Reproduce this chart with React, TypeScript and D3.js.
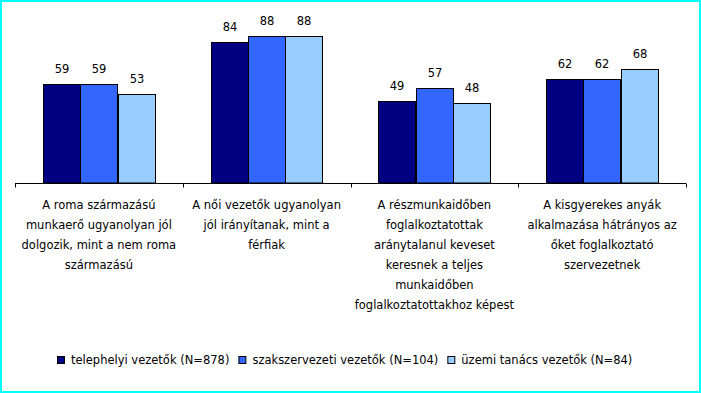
import React, { useEffect, useRef } from "react";
import * as d3 from "d3";

const categories = ["c1", "c2", "c3", "c4"];
const categoryLabels: string[][] = [
  ["A roma származású", "munkaerő ugyanolyan jól", "dolgozik, mint a nem roma", "származású"],
  ["A női vezetők ugyanolyan", "jól irányítanak, mint a", "férfiak"],
  ["A részmunkaidőben", "foglalkoztatottak", "aránytalanul keveset", "keresnek a teljes", "munkaidőben", "foglalkoztatottakhoz képest"],
  ["A kisgyerekes anyák", "alkalmazása hátrányos az", "őket foglalkoztató", "szervezetnek"],
];
const seriesNames = [
  "telephelyi vezetők (N=878)",
  "szakszervezeti vezetők (N=104)",
  "üzemi tanács vezetők (N=84)",
];
const telephelyi = [59, 84, 49, 62];
const szakszervezeti = [59, 88, 57, 62];
const uzemi = [53, 88, 48, 68];
const seriesValues = [telephelyi, szakszervezeti, uzemi];
const colors = ["#000080", "#3366FF", "#99CCFF"];

const W = 701;
const H = 393;
const FONT = "'DejaVu Sans', Verdana, sans-serif";

export default function App() {
  const ref = useRef<SVGSVGElement | null>(null);

  useEffect(() => {
    const svg = d3.select(ref.current);
    svg.selectAll("*").remove();

    svg
      .append("rect")
      .attr("x", 0)
      .attr("y", 0)
      .attr("width", W)
      .attr("height", H)
      .attr("fill", "#fff");

    const x0 = d3.scaleBand<string>().domain(categories).range([15, 686]).padding(0);
    const x1 = d3
      .scaleBand<number>()
      .domain([0, 1, 2])
      .range([0, x0.bandwidth()])
      .paddingInner(0)
      .paddingOuter(0.75);
    const y = d3.scaleLinear().domain([0, 100]).range([183, 15.5]);

    const g = svg.append("g");

    categories.forEach((c, ci) => {
      seriesValues.forEach((vals, si) => {
        const v = vals[ci];
        const bx = Math.round((x0(c) as number) + (x1(si) as number)) + 0.5;
        const bw = Math.round(x1.bandwidth());
        const by = Math.round(y(v)) + 0.5;
        g.append("rect")
          .attr("x", bx)
          .attr("y", by)
          .attr("width", bw)
          .attr("height", y(0) - by)
          .attr("fill", colors[si])
          .attr("stroke", "#000")
          .attr("stroke-width", 1);
        g.append("text")
          .attr("x", bx + bw / 2)
          .attr("y", by - 12)
          .attr("text-anchor", "middle")
          .attr("font-family", FONT)
          .attr("font-size", 11.5)
          .attr("fill", "#000")
          .text(String(v));
      });
    });

    // axis
    const axisY = Math.round(y(0)) + 0.5;
    g.append("line")
      .attr("x1", 15)
      .attr("x2", 686)
      .attr("y1", axisY)
      .attr("y2", axisY)
      .attr("stroke", "#000");
    const bounds = categories.map((c) => x0(c) as number).concat([686]);
    bounds.forEach((bx) => {
      g.append("line")
        .attr("x1", Math.round(bx) + 0.5)
        .attr("x2", Math.round(bx) + 0.5)
        .attr("y1", axisY)
        .attr("y2", axisY + 4)
        .attr("stroke", "#000");
    });

    // category labels
    categories.forEach((c, ci) => {
      const cx = (x0(c) as number) + x0.bandwidth() / 2;
      const t = g
        .append("text")
        .attr("text-anchor", "middle")
        .attr("font-family", FONT)
        .attr("font-size", 11.5)
        .attr("fill", "#000");
      categoryLabels[ci].forEach((line, li) => {
        t.append("tspan")
          .attr("x", cx)
          .attr("y", 209 + li * 20)
          .text(line);
      });
    });

    // legend
    const lg = svg.append("g");
    const items: { w: number }[] = [];
    const texts = seriesNames.map((n) =>
      lg
        .append("text")
        .attr("font-family", FONT)
        .attr("font-size", 11.5)
        .attr("fill", "#000")
        .attr("y", 364)
        .text(n)
    );
    texts.forEach((t) => items.push({ w: (t.node() as SVGTextElement).getComputedTextLength() }));
    const sw = 7;
    const gapST = 7;
    const gapItems = 9;
    const total = items.reduce((a, it) => a + sw + gapST + it.w, 0) + gapItems * (items.length - 1);
    let cx = Math.round(344.5 - total / 2);
    items.forEach((it, i) => {
      lg.append("rect")
        .attr("x", cx + 0.5)
        .attr("y", 356.5)
        .attr("width", sw)
        .attr("height", sw)
        .attr("fill", colors[i])
        .attr("stroke", "#000");
      texts[i].attr("x", cx + sw + gapST);
      cx += sw + gapST + it.w + gapItems;
    });

    // border
    svg
      .append("rect")
      .attr("x", 1)
      .attr("y", 1)
      .attr("width", 699)
      .attr("height", 391)
      .attr("fill", "none")
      .attr("stroke", "#00FFFF")
      .attr("stroke-width", 2);
  }, []);

  return (
    <svg
      ref={ref}
      width={W}
      height={H}
      style={{ position: "absolute", left: 0, top: 0, display: "block" }}
    />
  );
}
